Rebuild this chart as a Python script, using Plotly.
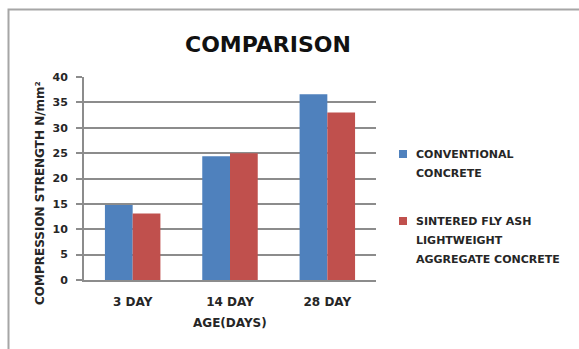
import plotly.graph_objects as go

# Compressive strength results (N/mm²) by curing age
ages = ["3 DAY", "14 DAY", "28 DAY"]
series_names = [
    "CONVENTIONAL<br>CONCRETE",
    "SINTERED FLY ASH<br>LIGHTWEIGHT<br>AGGREGATE CONCRETE",
]
conventional = [14.8, 24.4, 36.6]
sintered_fly_ash = [13.1, 25.0, 33.0]
series_colors = ["#4F81BD", "#C0504D"]

W, H = 579, 349
ML, MR, MT, MB = 84, 203, 77, 69
PW, PH = W - ML - MR, H - MT - MB

def px_x(x):
    return (x - ML) / PW

def px_y(y):
    return (H - MB - y) / PH

FONT = "DejaVu Sans"
TXT = "#262626"
GRID = "#8c8c8c"

fig = go.Figure()
for name, vals, col in zip(series_names, [conventional, sintered_fly_ash], series_colors):
    fig.add_trace(go.Bar(x=ages, y=vals, name=name, marker=dict(color=col, line=dict(width=0)),
                         showlegend=False))

fig.update_layout(
    width=W, height=H,
    margin=dict(l=ML, r=MR, t=MT, b=MB),
    paper_bgcolor="white", plot_bgcolor="white",
    barmode="group", bargap=0.43, bargroupgap=0,
    font=dict(family=FONT, color=TXT),
    xaxis=dict(
        type="category", showgrid=False, showline=True, linecolor=GRID, linewidth=2,
        ticks="", ticklabelstandoff=10,
        tickfont=dict(family=FONT, size=12, color=TXT, weight="bold"),
    ),
    yaxis=dict(
        range=[0, 40], dtick=5, showgrid=True, gridcolor=GRID, gridwidth=1.5,
        showline=True, linecolor=GRID, linewidth=2, zeroline=False,
        ticks="outside", ticklen=6, tickcolor=GRID, tickwidth=1.5, ticklabelstandoff=6,
        tickfont=dict(family=FONT, size=11, color=TXT, weight="bold"),
    ),
)

# Title and axis titles
fig.add_annotation(text="<b>COMPARISON</b>", xref="paper", yref="paper",
                   x=px_x(268), y=px_y(44), xanchor="center", yanchor="middle",
                   showarrow=False, font=dict(family=FONT, size=22, color="#111111"))
fig.add_annotation(text="<b>AGE(DAYS)</b>", xref="paper", yref="paper",
                   x=px_x(230), y=px_y(323), xanchor="center", yanchor="middle",
                   showarrow=False, font=dict(family=FONT, size=12, color=TXT))
fig.add_annotation(text="<b>COMPRESSION STRENGTH N/mm²</b>", xref="paper", yref="paper",
                   x=px_x(40), y=px_y(193), xanchor="center", yanchor="middle",
                   showarrow=False, textangle=-90,
                   font=dict(family=FONT, size=12, color=TXT))

# Legend: colour square plus one annotation per text line
legend_tops = [154, 221]
for name, col, top in zip(series_names, series_colors, legend_tops):
    fig.add_shape(type="rect", xref="paper", yref="paper",
                  x0=px_x(399), x1=px_x(407), y0=px_y(top - 4), y1=px_y(top + 4),
                  fillcolor=col, line=dict(width=0))
    for i, line in enumerate(name.split("<br>")):
        fig.add_annotation(text="<b>" + line + "</b>", xref="paper", yref="paper",
                           x=px_x(414), y=px_y(top + 19 * i), xanchor="left",
                           yanchor="middle", showarrow=False,
                           font=dict(family=FONT, size=11, color=TXT))

# Chart frame
fig.add_shape(type="rect", xref="paper", yref="paper",
              x0=px_x(8.5), x1=px_x(W + 20), y0=px_y(H + 20), y1=px_y(9.5),
              line=dict(color="#a6a6a6", width=2), fillcolor="rgba(0,0,0,0)")

fig.write_html("out.html")
